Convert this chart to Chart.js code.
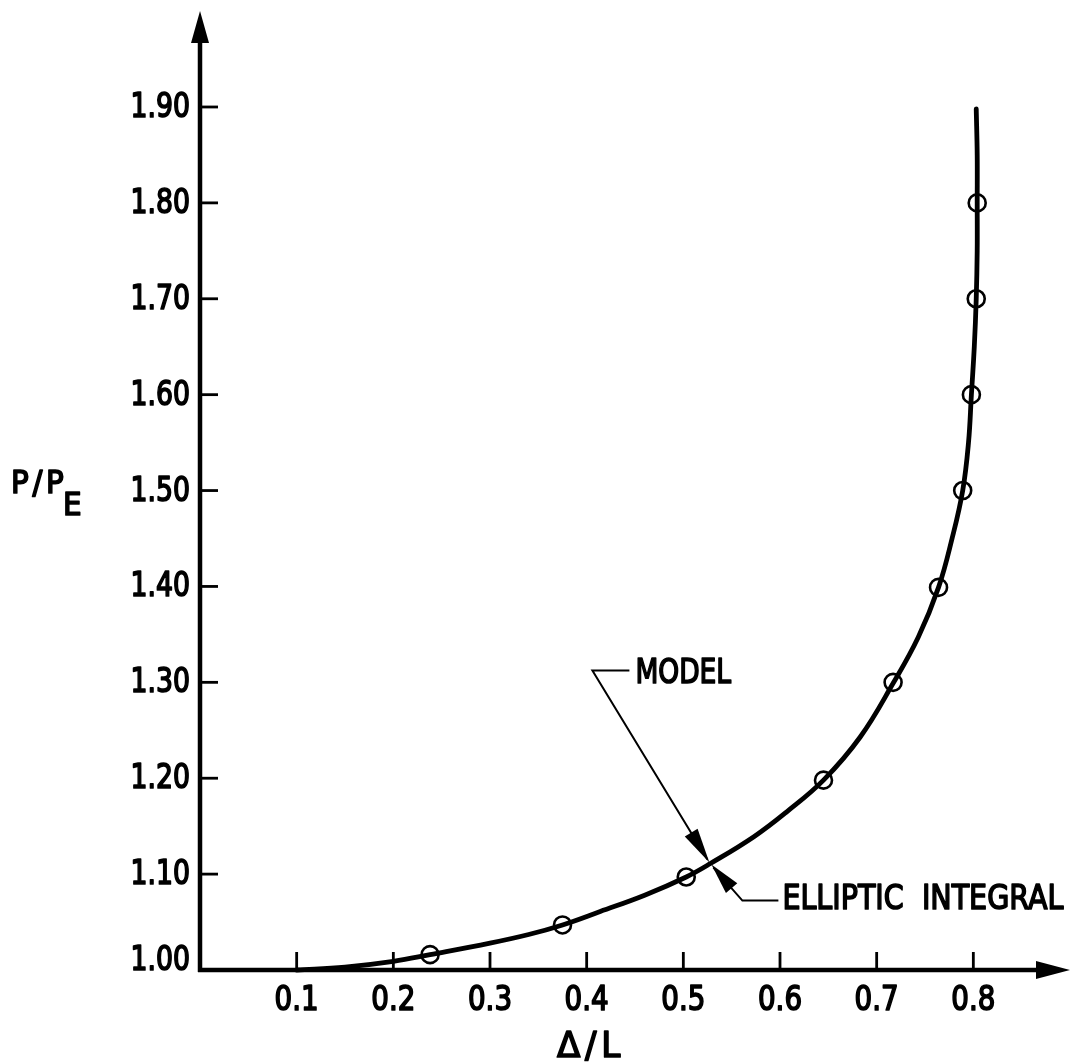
<!DOCTYPE html>
<html>
<head>
<meta charset="utf-8">
<script src="https://cdn.jsdelivr.net/npm/chart.js@4/dist/chart.umd.min.js"></script>
<style>
  html,body{margin:0;padding:0;background:#fff;}
  canvas{display:block;}
</style>
</head>
<body>
<canvas id="chart" width="1082" height="1063"></canvas>
<script>
// tick labels
const xTicks = [0.1,0.2,0.3,0.4,0.5,0.6,0.7,0.8];
const yTicks = [1.0,1.1,1.2,1.3,1.4,1.5,1.6,1.7,1.8,1.9];

// smooth curve (elliptic integral / model)
const curveX = [0.10,0.15,0.20,0.238,0.30,0.34,0.375,0.414,0.46,0.503,0.528,0.573,0.607,0.645,0.683,0.717,0.743,0.764,0.778,0.789,0.795,0.798,0.801,0.803,0.804,0.804,0.804,0.803];
const curveY = [1.000,1.003,1.009,1.016,1.028,1.037,1.047,1.061,1.078,1.097,1.111,1.139,1.165,1.198,1.243,1.299,1.347,1.399,1.450,1.500,1.550,1.600,1.650,1.700,1.750,1.800,1.850,1.898];

// open circles
const circX = [0.238,0.375,0.503,0.645,0.717,0.764,0.789,0.798,0.803,0.804];
const circY = [1.016,1.047,1.097,1.198,1.300,1.399,1.500,1.600,1.700,1.800];

// point where both arrows meet the curve
const arrowTip = [0.528,1.111];

const ink = '#000';
const fam = '"DejaVu Sans",sans-serif';

function arrowHead(ctx,x1,y1,x2,y2,len,half){
  // filled head, tip at x2,y2
  const a=Math.atan2(y2-y1,x2-x1);
  ctx.beginPath();
  ctx.moveTo(x2,y2);
  ctx.lineTo(x2-len*Math.cos(a)+half*Math.sin(a),y2-len*Math.sin(a)-half*Math.cos(a));
  ctx.lineTo(x2-len*Math.cos(a)-half*Math.sin(a),y2-len*Math.sin(a)+half*Math.cos(a));
  ctx.closePath();
  ctx.fill();
}

// lettering: narrow, slightly heavy strokes
function letter(ctx,txt,x,y,size,align,sx,spacing){
  ctx.save();
  ctx.translate(x,y);
  ctx.scale(sx,1);
  ctx.font=size+'px '+fam;
  ctx.letterSpacing=(spacing||0)+'px';
  ctx.textAlign=align;ctx.textBaseline='alphabetic';
  ctx.fillStyle=ink;ctx.strokeStyle=ink;ctx.lineWidth=1.7;ctx.lineJoin='round';
  ctx.fillText(txt,0,0);
  ctx.strokeText(txt,0,0);
  ctx.restore();
}

const axesPlugin={
  id:'axes',
  beforeDatasetsDraw(chart){
    const {ctx,chartArea:a,scales:{x,y}}=chart;
    ctx.save();
    ctx.strokeStyle=ink;ctx.fillStyle=ink;ctx.lineWidth=4.5;ctx.lineCap='butt';
    const x0=x.getPixelForValue(0), y0=y.getPixelForValue(1.0);
    // y axis
    ctx.beginPath();ctx.moveTo(x0,y0+2);ctx.lineTo(x0,a.top+25);ctx.stroke();
    arrowHead(ctx,x0,y0,x0,a.top,32,9);
    // x axis
    ctx.beginPath();ctx.moveTo(x0-2,y0);ctx.lineTo(a.right-25,y0);ctx.stroke();
    arrowHead(ctx,x0,y0,a.right,y0,34,9);
    // tick marks, inside
    ctx.lineWidth=2.8;
    x.ticks.forEach(t=>{
      const px=x.getPixelForValue(t.value);
      ctx.beginPath();ctx.moveTo(px,y0);ctx.lineTo(px,y0-18);ctx.stroke();
      letter(ctx,t.value.toFixed(1),px,y0+40,33,'center',0.84);
    });
    y.ticks.forEach(t=>{
      const py=y.getPixelForValue(t.value);
      if(t.value>1.0001){
        ctx.beginPath();ctx.moveTo(x0,py);ctx.lineTo(x0+18,py);ctx.stroke();
        letter(ctx,t.value.toFixed(2),x0-10,py+10,33,'right',0.81);
      }else{
        letter(ctx,t.value.toFixed(2),x0-10,py,33,'right',0.81);
      }
    });
    // axis titles
    letter(ctx,'\u0394/L',591,1057,36,'center',0.95,5);
    letter(ctx,'P/P',11,493,32,'left',0.92,4);
    letter(ctx,'E',63,515,32,'left',0.92);
    ctx.restore();
  },
  afterDatasetsDraw(chart){
    const {ctx,scales:{x,y}}=chart;
    ctx.save();
    ctx.strokeStyle=ink;ctx.fillStyle=ink;ctx.lineWidth=2;
    const tx=x.getPixelForValue(arrowTip[0]), ty=y.getPixelForValue(arrowTip[1]);
    // MODEL leader
    ctx.beginPath();
    ctx.moveTo(tx+(630-711),ty+(671-864));
    ctx.lineTo(tx+(593-711),ty+(671-864));
    ctx.lineTo(tx-3,ty-4);
    ctx.stroke();
    arrowHead(ctx,tx+(593-711),ty+(671-864),tx-1,ty-1,35,7.5);
    // ELLIPTIC INTEGRAL leader
    ctx.beginPath();
    ctx.moveTo(tx+(779-711),ty+(901-864));
    ctx.lineTo(tx+(743-711),ty+(901-864));
    ctx.lineTo(tx+3,ty+4);
    ctx.stroke();
    arrowHead(ctx,tx+(743-711),ty+(901-864),tx+1,ty+1,31,7.5);
    // labels
    letter(ctx,'MODEL',tx+(636-711),ty+(683-864),34,'left',0.78);
    letter(ctx,'ELLIPTIC  INTEGRAL',tx+(783-711),ty+(909-864),34,'left',0.84);
    ctx.restore();
  }
};

new Chart(document.getElementById('chart'),{
  type:'scatter',
  data:{
    datasets:[
      {
        label:'Elliptic integral',
        data:curveX.map((v,i)=>({x:v,y:curveY[i]})),
        showLine:true,borderColor:ink,borderWidth:4.8,pointRadius:0,
        borderCapStyle:'round',tension:0.4,fill:false,clip:false
      },
      {
        label:'Model',
        data:circX.map((v,i)=>({x:v,y:circY[i]})),
        showLine:false,pointStyle:'circle',pointRadius:8.5,
        pointBorderWidth:2.6,pointBorderColor:ink,pointBackgroundColor:'rgba(0,0,0,0)',clip:false
      }
    ]
  },
  options:{
    responsive:false,animation:false,
    layout:{padding:{top:10,right:12,left:0,bottom:0}},
    plugins:{legend:{display:false},tooltip:{enabled:false},title:{display:false}},
    scales:{
      x:{
        type:'linear',min:0,max:0.9,
        grid:{display:false},border:{display:false},
        ticks:{display:false},
        afterBuildTicks(s){s.ticks=xTicks.map(v=>({value:v}));},
        afterFit(s){s.height=93;}
      },
      y:{
        type:'linear',min:1.0,max:2.0,
        grid:{display:false},border:{display:false},
        ticks:{display:false},
        afterBuildTicks(s){s.ticks=yTicks.map(v=>({value:v}));},
        afterFit(s){s.width=200;}
      }
    }
  },
  plugins:[axesPlugin]
});
</script>
</body>
</html>
